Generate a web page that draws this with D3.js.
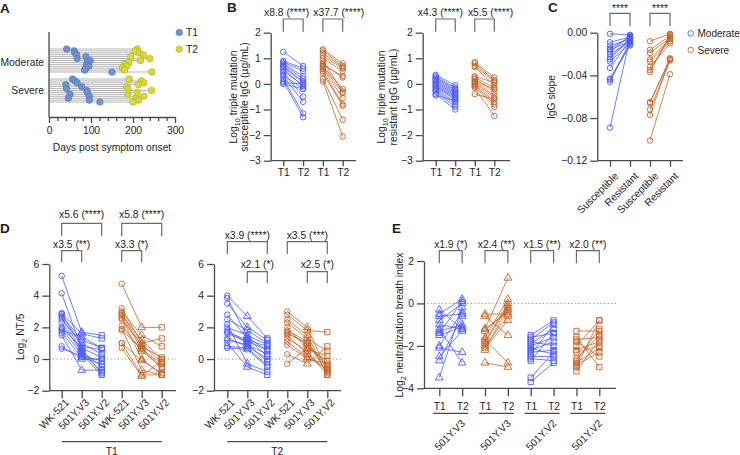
<!DOCTYPE html>
<html><head><meta charset="utf-8">
<script src="https://cdn.jsdelivr.net/npm/d3@7"></script>
<style>
body{margin:0;background:#fff}
svg{display:block}
text{font-family:"Liberation Sans",Arial,Helvetica,sans-serif;fill:#1e1e1e}
</style>
</head><body>
<svg id="c" width="740" height="455"></svg>
<script>
// ---------------- DATA ----------------
// Panel A: days post symptom onset (rows = patients)
const aModT1=[42,60,62,66,88,67,98,91,90,95,88,85,150];
const aModT2=[210,205,215,225,195,240,218,190,180,185,175,180,245];
const aSevT1=[56,62,67,40,78,42,90,91,50,96,46,96,121];
const aSevT2=[191,220,226,213,185,188,244,210,188,226,207,213,200];
const aTicks=[0,100,200,300];
const aCats=["Moderate","Severe"];
const aLegend=["T1","T2"];

// Panel B: log10 IgG (µg/mL)
const bTickLabels=["T1","T2","T1","T2"];
const bSusModT1=[1.25,0.9,0.85,0.8,0.75,0.7,0.65,0.6,0.5,0.45,0.35,0.3,0.2,0.1,0.0,0.05];
const bSusModT2=[0.7,0.6,0.5,0.3,0.2,0.05,0.1,-0.1,-0.05,-0.5,-0.2,-0.7,-1.15,-1.3,-0.2,0.0];
const bSusSevT1=[1.35,1.3,1.2,1.1,1.0,0.9,0.8,0.75,0.7,0.65,0.6,0.5,0.4,0.2,0.1];
const bSusSevT2=[0.8,0.7,0.65,0.6,0.5,-0.3,0.25,0.3,-0.2,-0.35,-0.55,-0.8,-0.85,-1.4,-2.05];
const bResModT1=[0.35,0.3,0.25,0.2,0.15,0.1,0.05,0.0,-0.05,-0.1,-0.15,-0.2,-0.25,-0.3,-0.4,-0.45];
const bResModT2=[-0.05,-0.15,-0.2,-0.25,-0.3,-0.35,-0.4,-0.45,-0.5,-0.55,-0.6,-0.7,-0.8,-0.9,-1.0,-0.65];
const bResSevT1=[0.85,0.8,0.7,0.65,0.25,0.2,0.1,0.05,0.0,-0.05,-0.1,-0.15,-0.4,0.1,0.3];
const bResSevT2=[0.25,0.15,0.1,-0.05,-0.15,-0.3,-0.45,-0.55,-0.7,-0.8,-0.9,-1.25,-0.6,-0.2,0.05];
const bBrackets=["x8.8 (****)","x37.7 (****)","x4.3 (****)","x5.5 (****)"];

// Panel C: IgG slope
const cTickLabels=["Susceptible","Resistant","Susceptible","Resistant"];
const cTicks=[0,-0.04,-0.08,-0.12];
const cModSus=[-0.001,-0.009,-0.012,-0.016,-0.018,-0.020,-0.023,-0.027,-0.033,-0.043,-0.044,-0.046,-0.089,-0.015,-0.025];
const cModRes=[-0.002,-0.004,-0.006,-0.008,-0.003,-0.009,-0.005,-0.010,-0.007,-0.011,-0.012,-0.008,-0.005,-0.004,-0.006];
const cSevSus=[-0.008,-0.016,-0.019,-0.025,-0.027,-0.032,-0.035,-0.037,-0.065,-0.066,-0.072,-0.077,-0.101];
const cSevRes=[-0.001,-0.003,-0.005,-0.006,-0.008,-0.010,-0.004,-0.002,-0.025,-0.024,-0.026,-0.025,-0.039];
const cLegend=["Moderate","Severe"];

// Panel D: log2 NT/5
const dTickLabels=["WK-521","501Y.V3","501Y.V2","WK-521","501Y.V3","501Y.V2"];
const dT1ModWK=[5.25,4.15,2.9,2.85,2.75,2.65,2.5,2.3,2.0,1.9,1.8,1.65,1.5,0.8,0.65];
const dT1ModV3=[1.7,0.6,1.6,0.8,1.2,0.5,1.0,0.4,0.7,0.3,1.4,0.1,-0.7,0.0,0.2];
const dT1ModV2=[1.5,-0.9,1.3,0.6,0.7,-0.5,0.3,-0.8,0.1,-1.0,0.7,-0.3,-0.7,0.0,-0.1];
const dT1SevWK=[4.75,3.2,3.0,2.9,2.8,2.75,2.6,2.5,2.1,1.9,1.8,1.0,1.0,0.7];
const dT1SevV3=[2.0,1.0,1.5,0.8,1.2,0.6,0.0,0.9,0.5,-0.7,0.7,-1.0,-0.1,-1.1];
const dT1SevV2=[2.0,1.3,0.8,0.1,0.0,-0.3,-1.0,-0.2,-0.5,-1.0,-0.6,-1.0,-0.9,-0.1];
const dT2ModWK=[4.0,3.85,3.5,2.8,2.5,2.2,2.0,1.8,1.7,1.3,1.2,1.0,0.8,0.7,1.6];
const dT2ModV3=[2.7,1.4,2.0,1.3,1.8,-0.3,1.5,1.0,1.2,0.8,0.9,-0.5,0.7,0.6,1.1];
const dT2ModV2=[1.3,0.5,1.2,0.2,1.0,-0.8,0.9,-0.2,0.8,0.0,0.3,-1.0,-0.4,-0.5,0.6];
const dT2SevWK=[3.0,2.8,2.5,2.3,2.0,1.8,1.7,1.5,1.3,1.1,0.9,0.3,-0.3,1.6];
const dT2SevV3=[2.0,1.8,1.5,1.3,0.6,1.1,0.9,0.3,0.5,0.1,0.0,-0.3,0.7,1.0];
const dT2SevV2=[-0.8,1.7,-1.0,0.5,0.2,-0.9,-0.5,-0.7,-1.0,-0.6,-0.3,0.8,-0.1,-0.4];
const dGroups=["T1","T2"];

// Panel E: log2 neutralization breadth index
const eTickLabels=["T1","T2","T1","T2","T1","T2","T1","T2"];
const eGroups=["501Y.V3","501Y.V3","501Y.V2","501Y.V2"];
const eModV3T1=[-0.3,-0.5,-0.6,-0.8,-1.2,-1.3,-1.4,-1.5,-2.0,-2.1,-2.5,-2.7,-3.5,-1.0];
const eModV3T2=[-1.2,0.2,-0.5,0.0,-2.8,-1.0,0.1,-1.1,-0.4,-2.3,-1.3,-0.6,-0.2,-1.2];
const eSevV3T1=[-0.5,-0.6,-1.2,-1.3,-1.6,-1.7,-1.8,-1.9,-2.0,-2.1,-2.2,-2.8,-1.2];
const eSevV3T2=[-0.5,-1.5,1.2,-0.3,0.2,-2.8,0.0,-0.1,-0.6,-0.8,-0.2,-3.0,-0.4];
const eModV2T1=[-1.5,-1.6,-1.7,-1.8,-1.9,-2.0,-2.1,-2.2,-2.3,-2.5,-2.6,-2.7,-3.5,-3.7,-2.4];
const eModV2T2=[-0.8,-1.4,-0.9,-2.0,-1.2,-1.6,-2.4,-1.8,-2.2,-2.5,-2.7,-1.4,-2.3,-2.8,-1.0];
const eSevV2T1=[-1.3,-1.6,-1.7,-2.0,-2.2,-2.3,-2.6,-2.8,-2.9,-3.0,-3.2,-1.8,-2.7];
const eSevV2T2=[-1.3,-3.0,-1.6,-0.8,-1.8,-2.0,-1.5,-2.1,-2.3,-0.8,-1.7,-2.5,-1.2];
const eBrackets=["x1.9 (*)","x2.4 (**)","x1.5 (**)","x2.0 (**)"];

// ---------------- DRAWING ----------------
const svg=d3.select("#c");
const AX="#4a4a4a", BR="#6a6a6a", BLUE="#4b5cf0", ORANGE="#c1652b";
const FS=10.3;

function styleAxis(g,fs){
  g.select(".domain").attr("stroke",AX).attr("stroke-width",1.3);
  g.selectAll(".tick line").attr("stroke",AX).attr("stroke-width",1.3);
  g.selectAll(".tick text").attr("font-size",fs||FS).attr("fill","#1e1e1e").attr("font-family",null);
  return g;
}
function yAxis(x,scale,vals,fmt){
  const g=svg.append("g").attr("transform",`translate(${x},0)`)
    .call(d3.axisLeft(scale).tickValues(vals).tickFormat(fmt||d3.format("d")).tickSize(7).tickPadding(3).tickSizeOuter(0));
  return styleAxis(g);
}
function xAxisLine(x1,x2,y){
  svg.append("line").attr("x1",x1).attr("x2",x2).attr("y1",y).attr("y2",y).attr("stroke",AX).attr("stroke-width",1.3);
}
function xAxisTicks(scale,y,labels,size,pad,showText){
  const g=svg.append("g").attr("transform",`translate(0,${y})`)
    .call(d3.axisBottom(scale).tickFormat((d,i)=>labels[i]).tickSize(size).tickPadding(pad));
  g.select(".domain").remove();
  styleAxis(g);
  if(!showText) g.selectAll(".tick text").remove();
  return g;
}
function rotLabels(scale,labels,y,dx,dy){
  scale.domain().forEach((d,i)=>{
    svg.append("text").attr("transform",`translate(${scale(d)+dx},${y+dy}) rotate(-45)`)
      .attr("text-anchor","end").attr("font-size",FS).text(labels[i]);
  });
}
function bracket(x1,x2,yTop,yBot,label,ty,tdx){
  svg.append("path").attr("d",`M${x1},${yBot}V${yTop}H${x2}V${yBot}`)
    .attr("fill","none").attr("stroke",BR).attr("stroke-width",1.2);
  svg.append("text").attr("x",(x1+x2)/2+(tdx||0)).attr("y",ty).attr("text-anchor","middle").attr("font-size",10.3).text(label);
}
function vTitle(cx,cy,lines,fs){
  const t=svg.append("text").attr("transform",`translate(${cx},${cy}) rotate(-90)`).attr("text-anchor","middle").attr("font-size",fs);
  lines.forEach((parts,li)=>{
    parts.forEach((p,pi)=>{
      const s=t.append("tspan").text(p.t);
      if(pi===0){ s.attr("x",0).attr("dy",li===0?0:fs*1.15); }
      if(p.sub){ s.attr("font-size",fs*0.7).attr("dy",3); }
      else if(pi>0 && parts[pi-1].sub){ s.attr("dy",-3); }
    });
  });
}
const sym={c:d3.symbol().type(d3.symbolCircle).size(24),
           t:d3.symbol().type(d3.symbolTriangle).size(26),
           s:d3.symbol().type(d3.symbolSquare).size(28)};
function paired(xs,yScale,arrays,color,shapes){
  const n=arrays[0].length;
  const rows=d3.range(n).map(i=>arrays.map((a,j)=>[xs[j],yScale(a[i])]));
  svg.append("g").selectAll("path").data(rows).join("path")
    .attr("d",d3.line()).attr("fill","none").attr("stroke",color).attr("stroke-width",0.8);
  arrays.forEach((a,j)=>{
    svg.append("g").selectAll("path").data(a).join("path")
      .attr("transform",v=>`translate(${xs[j]},${yScale(v)})`)
      .attr("d",sym[shapes[j]]).attr("fill","none").attr("stroke",color).attr("stroke-width",0.9);
  });
}
function dotted(x1,x2,y){
  svg.append("line").attr("x1",x1).attr("x2",x2).attr("y1",y).attr("y2",y)
    .attr("stroke","#8a8a8a").attr("stroke-width",1).attr("stroke-dasharray","1.2,2.4");
}
function panelLabel(x,y,s){
  svg.append("text").attr("x",x).attr("y",y).attr("font-size",13.5).attr("font-weight","bold").text(s);
}

// ---------- Panel A ----------
panelLabel(0,13,"A");
const xA=d3.scaleLinear().domain([0,300]).range([49,175]);
const yAmod=d3.scalePoint().domain(d3.range(aModT1.length)).range([49,72]);
const yAsev=d3.scalePoint().domain(d3.range(aSevT1.length)).range([79,102]);
[[aModT1,aModT2,yAmod],[aSevT1,aSevT2,yAsev]].forEach(([t1,t2,ys])=>{
  svg.append("g").selectAll("line").data(t2).join("line")
    .attr("x1",xA(0)).attr("x2",d=>xA(d)).attr("y1",(d,i)=>ys(i)).attr("y2",(d,i)=>ys(i))
    .attr("stroke","#b4b4b4").attr("stroke-width",1);
  svg.append("g").selectAll("circle").data(t1).join("circle")
    .attr("cx",d=>xA(d)).attr("cy",(d,i)=>ys(i)).attr("r",3.3)
    .attr("fill","#6f93d0").attr("stroke","#5577b5").attr("stroke-width",0.6);
  svg.append("g").selectAll("circle").data(t2).join("circle")
    .attr("cx",d=>xA(d)).attr("cy",(d,i)=>ys(i)).attr("r",3.3)
    .attr("fill","#d8d83c").attr("stroke","#adad22").attr("stroke-width",0.6);
});
svg.append("line").attr("x1",49).attr("x2",49).attr("y1",32).attr("y2",117).attr("stroke",AX).attr("stroke-width",1.3);
{
  const g=svg.append("g").attr("transform","translate(0,117)")
    .call(d3.axisBottom(xA).tickValues(aTicks).tickSize(6).tickPadding(4).tickSizeOuter(0));
  styleAxis(g);
  const gm=svg.append("g").attr("transform","translate(0,117)")
    .call(d3.axisBottom(xA).tickValues(d3.range(20,300,20).filter(v=>v%100)).tickSize(4).tickFormat(""));
  gm.select(".domain").remove(); styleAxis(gm);
}
svg.append("text").attr("x",44).attr("y",(yAmod(0)+yAmod(aModT1.length-1))/2+5).attr("text-anchor","end").attr("font-size",FS).text(aCats[0]);
svg.append("text").attr("x",44).attr("y",(yAsev(0)+yAsev(aSevT1.length-1))/2+3).attr("text-anchor","end").attr("font-size",FS).text(aCats[1]);
svg.append("text").attr("x",112).attr("y",150.5).attr("text-anchor","middle").attr("font-size",FS).text("Days post symptom onset");
[["#6f93d0","#5577b5"],["#d8d83c","#adad22"]].forEach((c,i)=>{
  const y=32.5+i*16.7;
  svg.append("circle").attr("cx",179.3).attr("cy",y).attr("r",3.3).attr("fill",c[0]).attr("stroke",c[1]).attr("stroke-width",0.6);
  svg.append("text").attr("x",186).attr("y",y+3.6).attr("font-size",FS).text(aLegend[i]);
});

// ---------- Panel B ----------
panelLabel(227,12,"B");
const yB=d3.scaleLinear().domain([-3,2]).range([160.7,32.7]);
const xBL=d3.scalePoint().domain([0,1,2,3]).range([283.3,342.7]);
const xBR=d3.scalePoint().domain([0,1,2,3]).range([435.7,494.3]);
[[270.7,356,xBL],[422.7,510,xBR]].forEach(([ax,ex,xs])=>{
  yAxis(ax,yB,[-3,-2,-1,0,1,2]);
  xAxisLine(ax,ex,yB(-3));
  xAxisTicks(xs,yB(-3),bTickLabels,5.5,2,true);
});
paired([xBL(0),xBL(1)],yB,[bSusModT1,bSusModT2],BLUE,["c","c"]);
paired([xBL(2),xBL(3)],yB,[bSusSevT1,bSusSevT2],ORANGE,["c","c"]);
paired([xBR(0),xBR(1)],yB,[bResModT1,bResModT2],BLUE,["c","c"]);
paired([xBR(2),xBR(3)],yB,[bResSevT1,bResSevT2],ORANGE,["c","c"]);
bracket(xBL(0),xBL(1),19,31.7,bBrackets[0],15.5,-6.5);
bracket(xBL(2),xBL(3),19,31.7,bBrackets[1],15.5,6);
bracket(xBR(0),xBR(1),19,31.7,bBrackets[2],15.5,-5);
bracket(xBR(2),xBR(3),19,31.7,bBrackets[3],15.5,6);
vTitle(236.5,97,[[{t:"Log"},{t:"10",sub:true},{t:" triple mutation"}],[{t:"susceptible IgG (µg/mL)"}]],FS);
vTitle(385,97,[[{t:"Log"},{t:"10",sub:true},{t:" triple mutation"}],[{t:"resistant IgG (µg/mL)"}]],FS);

// ---------- Panel C ----------
panelLabel(548,12,"C");
const yC=d3.scaleLinear().domain([-0.12,0]).range([160.7,32.7]);
const xC=d3.scalePoint().domain([0,1,2,3]).range([610,670]);
yAxis(597.3,yC,cTicks,d3.format(".2f"));
xAxisLine(597.3,683,yC(-0.12));
xAxisTicks(xC,yC(-0.12),cTickLabels,6,3,false);
rotLabels(xC,cTickLabels,yC(-0.12),9,16);
paired([xC(0),xC(1)],yC,[cModSus,cModRes],BLUE,["c","c"]);
paired([xC(2),xC(3)],yC,[cSevSus,cSevRes],ORANGE,["c","c"]);
bracket(xC(0),xC(1),13.3,26,"****",12);
bracket(xC(2),xC(3),13.3,26,"****",12);
vTitle(555,97,[[{t:"IgG slope"}]],FS);
[BLUE,ORANGE].forEach((c,i)=>{
  const y=33.3+i*16.7;
  svg.append("path").attr("transform",`translate(690.7,${y})`).attr("d",sym.c).attr("fill","none").attr("stroke",c).attr("stroke-width",0.9);
  svg.append("text").attr("x",697.5).attr("y",y+3.6).attr("font-size",10).text(cLegend[i]);
});

// ---------- Panel D ----------
panelLabel(0,233,"D");
const yD=d3.scaleLinear().domain([-2,6]).range([390.7,264]);
const xDL=d3.scalePoint().domain(d3.range(6)).range([61.7,161.7]);
const xDR=d3.scalePoint().domain(d3.range(6)).range([227.3,327.3]);
[[49.3,176,xDL,0],[214,341,xDR,1]].forEach(([ax,ex,xs,gi])=>{
  dotted(ax,ex,yD(0));
  yAxis(ax,yD,[-2,0,2,4,6]);
  xAxisLine(ax,ex,yD(-2));
  xAxisTicks(xs,yD(-2),dTickLabels,7.5,3,false);
  rotLabels(xs,dTickLabels,yD(-2),8,12.5);
  svg.append("line").attr("x1",xs(0)).attr("x2",xs(5)).attr("y1",441.7).attr("y2",441.7).attr("stroke",AX).attr("stroke-width",1.2);
  svg.append("text").attr("x",(xs(0)+xs(5))/2).attr("y",454.5).attr("text-anchor","middle").attr("font-size",FS).text(dGroups[gi]);
});
paired([xDL(0),xDL(1),xDL(2)],yD,[dT1ModWK,dT1ModV3,dT1ModV2],BLUE,["c","t","s"]);
paired([xDL(3),xDL(4),xDL(5)],yD,[dT1SevWK,dT1SevV3,dT1SevV2],ORANGE,["c","t","s"]);
paired([xDR(0),xDR(1),xDR(2)],yD,[dT2ModWK,dT2ModV3,dT2ModV2],BLUE,["c","t","s"]);
paired([xDR(3),xDR(4),xDR(5)],yD,[dT2SevWK,dT2SevV3,dT2SevV2],ORANGE,["c","t","s"]);
bracket(xDL(0),xDL(2),223.3,236,"x5.6 (****)",217.5);
bracket(xDL(3),xDL(5),223.3,236,"x5.8 (****)",217.5);
bracket(xDL(0),xDL(1),250.7,262.3,"x3.5 (**)",247.5);
bracket(xDL(3),xDL(4),250.7,262.3,"x3.3 (*)",247.5);
bracket(xDR(0),xDR(2),241.7,254,"x3.9 (****)",238.5);
bracket(xDR(3),xDR(5),241.7,254,"x3.5 (***)",238.5);
bracket(xDR(1),xDR(2),271.7,283.3,"x2.1 (*)",268);
bracket(xDR(4),xDR(5),271.7,283.3,"x2.5 (*)",268);
vTitle(23.5,336.7,[[{t:"Log"},{t:"2",sub:true},{t:" NT/5"}]],FS);

// ---------- Panel E ----------
panelLabel(392,233,"E");
const yE=d3.scaleLinear().domain([-4,2]).range([388.3,261]);
const xE=d3.scalePoint().domain(d3.range(8)).range([439.3,599.3]);
dotted(424,616,yE(0));
yAxis(424,yE,[-4,-2,0,2]);
xAxisLine(424,616,yE(-4));
xAxisTicks(xE,yE(-4),eTickLabels,8,6,true);
eGroups.forEach((gname,k)=>{
  const cx=(xE(2*k)+xE(2*k+1))/2;
  svg.append("line").attr("x1",cx-17.5).attr("x2",cx+17.5).attr("y1",413.3).attr("y2",413.3).attr("stroke",AX).attr("stroke-width",1.2);
  svg.append("text").attr("transform",`translate(${cx+15},${424}) rotate(-45)`).attr("text-anchor","end").attr("font-size",FS).text(gname);
  bracket(xE(2*k),xE(2*k+1),250.7,263.3,eBrackets[k],247.5);
});
paired([xE(0),xE(1)],yE,[eModV3T1,eModV3T2],BLUE,["t","t"]);
paired([xE(2),xE(3)],yE,[eSevV3T1,eSevV3T2],ORANGE,["t","t"]);
paired([xE(4),xE(5)],yE,[eModV2T1,eModV2T2],BLUE,["s","s"]);
paired([xE(6),xE(7)],yE,[eSevV2T1,eSevV2T2],ORANGE,["s","s"]);
vTitle(402.5,325,[[{t:"Log"},{t:"2",sub:true},{t:" neutralization breath index"}]],FS);
</script>
</body></html>
